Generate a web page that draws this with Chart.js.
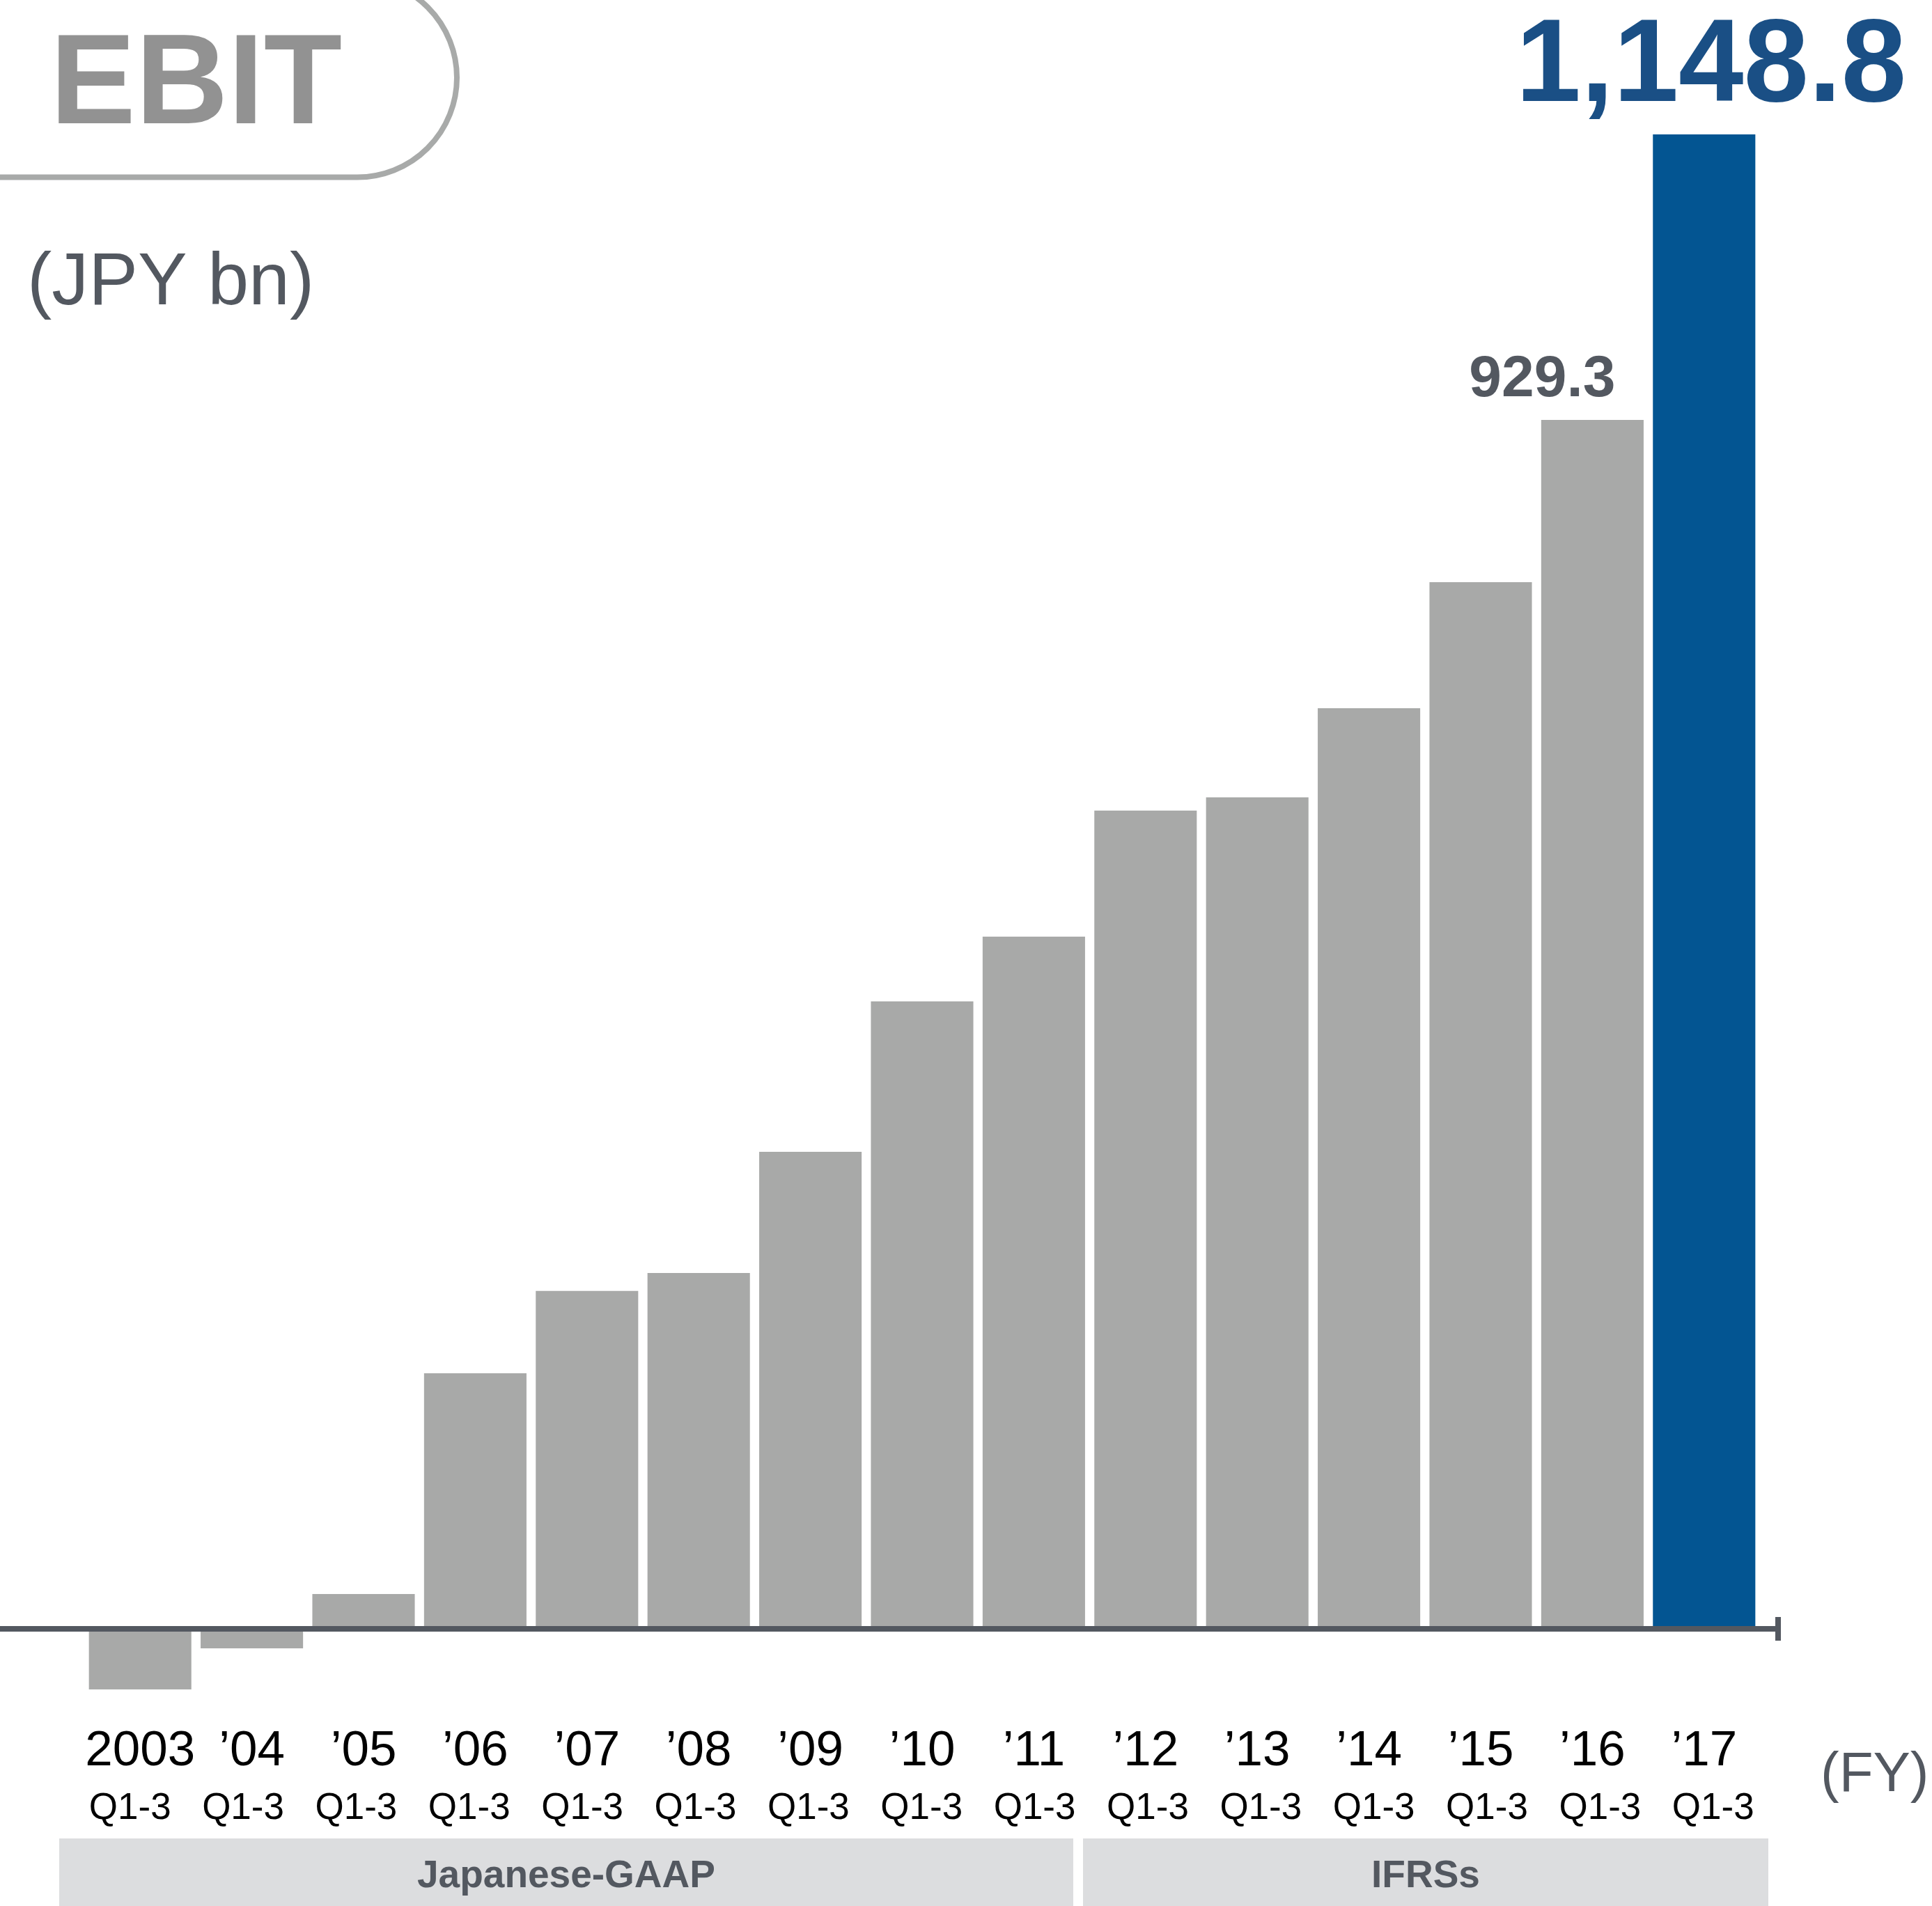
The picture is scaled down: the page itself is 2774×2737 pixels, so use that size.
<!DOCTYPE html>
<html>
<head>
<meta charset="utf-8">
<script src="https://cdn.jsdelivr.net/npm/chart.js@4/dist/chart.umd.min.js"></script>
<style>
  html, body { margin: 0; padding: 0; background: #fff; }
  canvas { display: block; }
</style>
</head>
<body>
<canvas id="ebitChart" width="2774" height="2737"></canvas>
<script>
// Data (JPY bn)
var years = ['2003', '\u201904', '\u201905', '\u201906', '\u201907', '\u201908', '\u201909', '\u201910',
             '\u201911', '\u201912', '\u201913', '\u201914', '\u201915', '\u201916', '\u201917'];
var periods = ['Q1-3', 'Q1-3', 'Q1-3', 'Q1-3', 'Q1-3', 'Q1-3', 'Q1-3', 'Q1-3',
               'Q1-3', 'Q1-3', 'Q1-3', 'Q1-3', 'Q1-3', 'Q1-3', 'Q1-3'];
var ebit = [-46.6, -15.0, 26.8, 196.5, 259.8, 273.6, 366.7, 482.3,
            532.1, 629.0, 639.2, 707.7, 804.6, 929.3, 1148.8];
var valueLabels = ['', '', '', '', '', '', '', '', '', '', '', '', '', '929.3', '1,148.8'];
var standards = ['Japanese-GAAP', 'IFRSs'];

var FONT = "'Liberation Sans', Arial, Helvetica, sans-serif";
var GREY_BAR = '#a8a9a8';
var BLUE_BAR = '#035592';
var DARK = '#535860';

// Everything that is not a bar: title, axis line, labels, bands
var decorations = {
    id: 'decorations',
    afterDatasetsDraw: function(chart) {
        var ctx = chart.ctx;
        var meta = chart.getDatasetMeta(0);
        var zeroY = chart.scales.y.getPixelForValue(0);
        ctx.save();

        // title pill outline
        ctx.strokeStyle = '#a8aaa9';
        ctx.lineWidth = 8;
        ctx.beginPath();
        ctx.moveTo(-20, 254.5);
        ctx.lineTo(513, 254.5);
        ctx.arc(513, 111.5, 143, Math.PI / 2, -Math.PI / 2, true);
        ctx.lineTo(-20, -31.5);
        ctx.stroke();

        ctx.fillStyle = '#929292';
        ctx.font = 'bold 184px ' + FONT;
        ctx.textAlign = 'left';
        ctx.textBaseline = 'alphabetic';
        ctx.fillText('EBIT', 72, 177);

        ctx.fillStyle = DARK;
        ctx.font = '106px ' + FONT;
        ctx.fillText('(JPY bn)', 39, 437);

        // zero axis line with end tick
        ctx.fillStyle = DARK;
        ctx.fillRect(0, zeroY - 4, 2557, 8);
        ctx.fillRect(2549, zeroY - 17, 8, 34);

        // value labels above the last two bars
        ctx.textAlign = 'center';
        meta.data.forEach(function(bar, i) {
            if (!valueLabels[i]) return;
            if (i === ebit.length - 1) {
                ctx.fillStyle = '#1a4f85';
                ctx.font = 'bold 168px ' + FONT;
                ctx.fillText(valueLabels[i], bar.x + 10, bar.y - 48);
            } else {
                ctx.fillStyle = DARK;
                ctx.font = 'bold 84px ' + FONT;
                ctx.fillText(valueLabels[i], bar.x - 72, bar.y - 34);
            }
        });

        // category labels
        ctx.fillStyle = '#000';
        meta.data.forEach(function(bar, i) {
            ctx.font = '71px ' + FONT;
            ctx.fillText(years[i], bar.x, 2535);
            ctx.font = '53px ' + FONT;
            ctx.fillText(periods[i], bar.x - 14.5 + i * 1.96, 2612);
        });

        ctx.fillStyle = DARK;
        ctx.font = '80px ' + FONT;
        ctx.textAlign = 'left';
        ctx.fillText('(FY)', 2614, 2572);

        // accounting standard bands
        var bands = [[85, 1541], [1555, 2539]];
        ctx.textAlign = 'center';
        ctx.font = 'bold 55px ' + FONT;
        bands.forEach(function(b, i) {
            ctx.fillStyle = '#dcdddf';
            ctx.fillRect(b[0], 2640, b[1] - b[0], 97);
            ctx.fillStyle = DARK;
            ctx.fillText(standards[i], (b[0] + b[1]) / 2, 2710);
        });

        ctx.restore();
    }
};

var ctx = document.getElementById('ebitChart').getContext('2d');
var myChart = new Chart(ctx, {
    type: 'bar',
    data: {
        labels: years,
        datasets: [{
            label: 'EBIT',
            data: ebit,
            backgroundColor: ebit.map(function(v, i) { return i === ebit.length - 1 ? BLUE_BAR : GREY_BAR; }),
            borderWidth: 0,
            barPercentage: 0.917,
            categoryPercentage: 1.0
        }]
    },
    options: {
        responsive: false,
        devicePixelRatio: 1,
        animation: false,
        layout: {
            padding: { left: 121, right: 247, top: 97.4, bottom: 24.4 }
        },
        plugins: {
            legend: { display: false },
            tooltip: { enabled: false },
            title: { display: false }
        },
        scales: {
            x: { display: false },
            y: { display: false, min: -200, max: 1200 }
        }
    },
    plugins: [decorations]
});
</script>
</body>
</html>
